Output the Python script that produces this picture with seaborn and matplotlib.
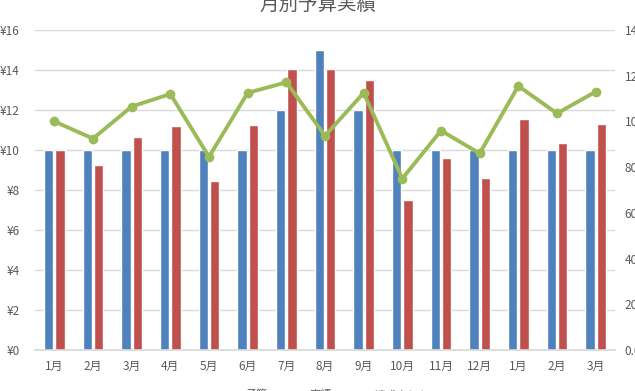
import numpy as np
import pandas as pd
import seaborn as sns
import matplotlib.pyplot as plt
from matplotlib.ticker import FuncFormatter, MultipleLocator

sns.set_theme(style="white")
plt.rcParams["font.family"] = ["Noto Sans CJK JP", "DejaVu Sans"]

# data
months = ["1月", "2月", "3月", "4月", "5月", "6月", "7月", "8月", "9月",
          "10月", "11月", "12月", "1月", "2月", "3月"]
budget = [10, 10, 10, 10, 10, 10, 12, 15, 12, 10, 10, 10, 10, 10, 10]
actual = [10.0, 9.25, 10.65, 11.2, 8.45, 11.25, 14.05, 14.05, 13.5,
          7.5, 9.6, 8.6, 11.55, 10.35, 11.3]
rate = [100.0, 92.5, 106.5, 112.0, 84.5, 112.5, 117.1, 93.7, 112.5,
        75.0, 96.0, 86.0, 115.5, 103.5, 113.0]
series = ["予算", "実績", "達成率(%)"]

blue, red, green = "#4f81bd", "#c0504d", "#9bbb59"
gray_txt, gray_grid = "#595959", "#d9d9d9"

pos = np.arange(len(months))
df = pd.DataFrame({
    "pos": np.concatenate([pos, pos]),
    "value": budget + actual,
    "series": [series[0]] * len(budget) + [series[1]] * len(actual),
})

fig = plt.figure(figsize=(6.35, 3.91), dpi=100)
W, H = 635, 391
ax = fig.add_axes([35 / W, (H - 350) / H, 580 / W, 320 / H])

sns.barplot(data=df, x="pos", y="value", hue="series",
            palette=[blue, red], width=0.58, gap=0.15,
            saturation=1, ax=ax)

ax.set_xlim(-0.5, len(months) - 0.5)
ax.set_ylim(0, 16)
ax.yaxis.set_major_locator(MultipleLocator(2))
ax.yaxis.set_major_formatter(FuncFormatter(lambda v, p: f"¥{v:.0f}"))
ax.set_xticks(pos)
ax.set_xticklabels(months)
ax.set_xlabel("")
ax.set_ylabel("")
ax.grid(axis="y", color=gray_grid, linewidth=1)
ax.set_axisbelow(True)
for s in ("left", "right", "top"):
    ax.spines[s].set_visible(False)
ax.spines["bottom"].set_color(gray_grid)
ax.tick_params(axis="both", length=0, colors=gray_txt, labelsize=8.5)
ax.tick_params(axis="y", pad=11)
ax.tick_params(axis="x", pad=7)

# achievement rate on the secondary axis
ax2 = ax.twinx()
sns.lineplot(x=pos, y=rate, ax=ax2, color=green, linewidth=2.8,
             marker="o", markersize=7, markeredgewidth=0, label=series[2])
ax2.set_ylim(0, 140)
ax2.yaxis.set_major_locator(MultipleLocator(20))
ax2.yaxis.set_major_formatter(FuncFormatter(lambda v, p: f"{v:.1f}"))
for s in ax2.spines.values():
    s.set_visible(False)
ax2.tick_params(axis="y", length=0, colors=gray_txt, labelsize=8.5, pad=7)
ax2.set_ylabel("")

h1, l1 = ax.get_legend_handles_labels()
h2, l2 = ax2.get_legend_handles_labels()
ax.get_legend().remove()
ax2.get_legend().remove()
fig.legend(h1 + h2, l1 + l2, loc="center", bbox_to_anchor=(0.515, -4 / H),
           ncol=3, frameon=False, fontsize=8, labelcolor=gray_txt,
           handlelength=1.0, handleheight=0.4, handletextpad=0.5,
           columnspacing=2.3, borderpad=0, markerscale=0.6)

fig.text(0.5, 1 - 4 / H, "月別予算実績", ha="center", va="center",
         fontsize=14, color=gray_txt)

fig.savefig("out.png", dpi=100)
